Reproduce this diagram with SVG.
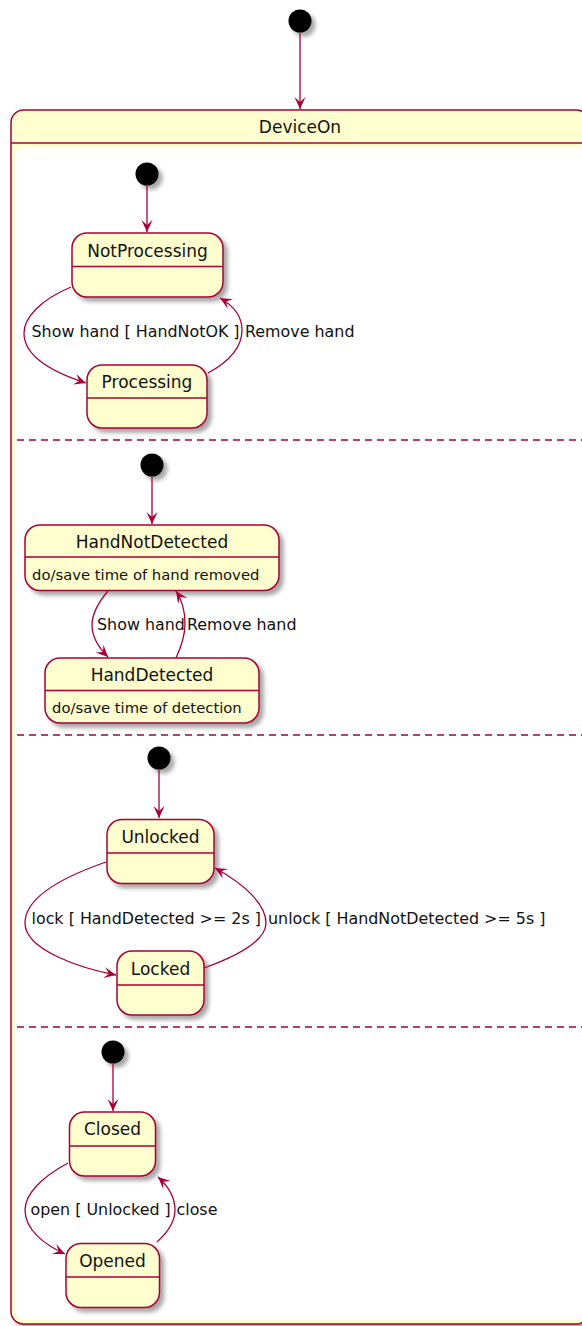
<svg xmlns="http://www.w3.org/2000/svg" width="582" height="1326" viewBox="0 0 582 1326">
  <style>
    .state { fill: #FEFECE; stroke: #A80036; stroke-width: 1.5; }
    .div { stroke: #A80036; stroke-width: 1.5; fill: none; }
    .sep { stroke: #A80036; stroke-width: 1.5; stroke-dasharray: 7 5; fill: none; }
    .init { fill: #000; }
    .edge { stroke: #A80036; stroke-width: 1.3; fill: none; marker-end: url(#arrow); }
    .title { font-family: "DejaVu Sans", sans-serif; font-size: 17px; fill: #111; text-anchor: middle; }
    .body { font-family: "DejaVu Sans", sans-serif; font-size: 14.8px; fill: #111; }
    .label { font-family: "DejaVu Sans", sans-serif; font-size: 15.9px; fill: #111; }
  </style>
  <defs>
    <filter id="shadow" x="-20%" y="-20%" width="150%" height="160%">
      <feGaussianBlur in="SourceAlpha" stdDeviation="2"/>
      <feOffset dx="4" dy="4" result="b"/>
      <feComponentTransfer><feFuncA type="linear" slope="0.35"/></feComponentTransfer>
      <feMerge><feMergeNode/><feMergeNode in="SourceGraphic"/></feMerge>
    </filter>
    <marker id="arrow" markerUnits="userSpaceOnUse" markerWidth="14" markerHeight="12" refX="12" refY="5.5" orient="auto">
      <path d="M0,0 L12,5.5 L0,11 L5,5.5 Z" fill="#A80036"/>
    </marker>
  </defs>

  <rect width="582" height="1326" fill="#FFFFFF"/>

  <!-- top-level initial state -->
  <g id="init-top">
    <circle class="init" cx="300" cy="21" r="11.5" filter="url(#shadow)"/>
  </g>

  <!-- composite state DeviceOn -->
  <g id="DeviceOn">
    <rect class="state" x="11" y="110" width="578" height="1214" rx="12.5" filter="url(#shadow)"/>
    <line class="div" x1="11" y1="143" x2="589" y2="143"/>
    <rect x="15" y="147" width="570" height="1173" rx="10" fill="#FFFFFF"/>
    <text class="title" x="300" y="133">DeviceOn</text>
    <line class="sep" x1="17" y1="440" x2="589" y2="440"/>
    <line class="sep" x1="17" y1="735" x2="589" y2="735"/>
    <line class="sep" x1="17" y1="1027" x2="589" y2="1027"/>
  </g>

  <!-- region 1 -->
  <g id="init-1"><circle class="init" cx="147" cy="174" r="11.5" filter="url(#shadow)"/></g>
  <g id="NotProcessing">
    <rect class="state" x="72" y="233" width="151" height="64" rx="15" filter="url(#shadow)"/>
    <line class="div" x1="72" y1="266.5" x2="223" y2="266.5"/>
    <text class="title" x="147.5" y="257">NotProcessing</text>
  </g>
  <g id="Processing">
    <rect class="state" x="87" y="365" width="120" height="63" rx="15" filter="url(#shadow)"/>
    <line class="div" x1="87" y1="398" x2="207" y2="398"/>
    <text class="title" x="147" y="388">Processing</text>
  </g>

  <!-- region 2 -->
  <g id="init-2"><circle class="init" cx="152" cy="465" r="11.5" filter="url(#shadow)"/></g>
  <g id="HandNotDetected">
    <rect class="state" x="25" y="525" width="254" height="65.5" rx="15" filter="url(#shadow)"/>
    <line class="div" x1="25" y1="557" x2="279" y2="557"/>
    <text class="title" x="152" y="548">HandNotDetected</text>
    <text class="body" x="32" y="580">do/save time of hand removed</text>
  </g>
  <g id="HandDetected">
    <rect class="state" x="45" y="658" width="214" height="65" rx="15" filter="url(#shadow)"/>
    <line class="div" x1="45" y1="690.5" x2="259" y2="690.5"/>
    <text class="title" x="152" y="681">HandDetected</text>
    <text class="body" x="52" y="713">do/save time of detection</text>
  </g>

  <!-- region 3 -->
  <g id="init-3"><circle class="init" cx="159" cy="758" r="11.5" filter="url(#shadow)"/></g>
  <g id="Unlocked">
    <rect class="state" x="107" y="819.5" width="107" height="64" rx="15" filter="url(#shadow)"/>
    <line class="div" x1="107" y1="853" x2="214" y2="853"/>
    <text class="title" x="160.5" y="843">Unlocked</text>
  </g>
  <g id="Locked">
    <rect class="state" x="117" y="951" width="87" height="64" rx="15" filter="url(#shadow)"/>
    <line class="div" x1="117" y1="985" x2="204" y2="985"/>
    <text class="title" x="160.5" y="975">Locked</text>
  </g>

  <!-- region 4 -->
  <g id="init-4"><circle class="init" cx="113" cy="1052" r="11.5" filter="url(#shadow)"/></g>
  <g id="Closed">
    <rect class="state" x="69.5" y="1112" width="86" height="64" rx="15" filter="url(#shadow)"/>
    <line class="div" x1="69.5" y1="1146" x2="155.5" y2="1146"/>
    <text class="title" x="112.5" y="1135">Closed</text>
  </g>
  <g id="Opened">
    <rect class="state" x="66" y="1243.5" width="93.5" height="64" rx="15" filter="url(#shadow)"/>
    <line class="div" x1="66" y1="1277" x2="159.5" y2="1277"/>
    <text class="title" x="112.5" y="1267">Opened</text>
  </g>

  <!-- transitions -->
  <g id="connectors">
    <path class="edge" d="M300,33 L300,109"/>
    <path class="edge" d="M147,186 L147,232"/>
    <path class="edge" d="M71,287 C40,300 24,318 24,333 C24,358 58,374 86,383"/>
    <path class="edge" d="M208,373 C232,360 242,345 242,330 C242,316 234,306 220,298"/>

    <path class="edge" d="M152,477 L152,524"/>
    <path class="edge" d="M108,591 C97,604 92,615 92,625 C92,638 99,648 108,657"/>
    <path class="edge" d="M176,658 C182,645 185,635 185,624 C185,610 182,600 176,591"/>

    <path class="edge" d="M159,770 L159,818"/>
    <path class="edge" d="M106,862 C60,878 25,898 25,923 C25,950 80,968 116,975"/>
    <path class="edge" d="M204,968 C240,955 266,940 266,923 C266,905 246,885 215,868"/>

    <path class="edge" d="M113,1064 L113,1111"/>
    <path class="edge" d="M68,1163 C40,1178 25,1195 25,1210 C25,1230 45,1245 65,1254"/>
    <path class="edge" d="M157,1242 C168,1232 175,1222 175,1210 C175,1197 168,1186 158,1177"/>
  </g>

  <!-- transition labels -->
  <g id="labels">
    <text class="label" x="31.5" y="337">Show hand [ HandNotOK ]</text>
    <text class="label" x="245" y="337">Remove hand</text>
    <text class="label" x="97" y="630">Show hand</text>
    <text class="label" x="187" y="630">Remove hand</text>
    <text class="label" x="31.5" y="924">lock [ HandDetected &gt;= 2s ]</text>
    <text class="label" x="268" y="924">unlock [ HandNotDetected &gt;= 5s ]</text>
    <text class="label" x="30.5" y="1215">open [ Unlocked ]</text>
    <text class="label" x="176.5" y="1215">close</text>
  </g>
</svg>
